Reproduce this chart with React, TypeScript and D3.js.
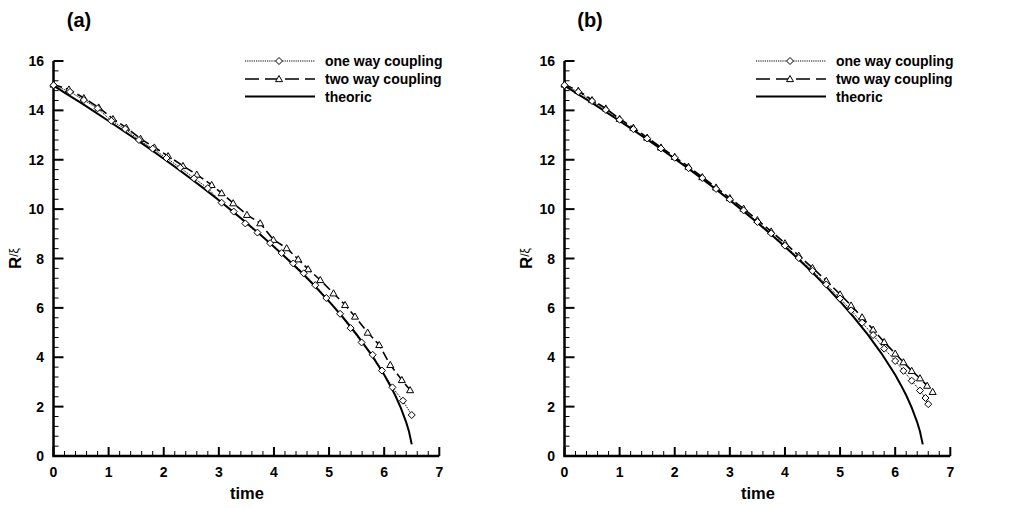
import React from "react";
import * as d3 from "d3";

// ---------- data ----------
const theoryT = [0, 0.25, 0.5, 0.75, 1, 1.25, 1.5, 1.75, 2, 2.25, 2.5, 2.75, 3, 3.25, 3.5, 3.75, 4, 4.25, 4.5, 4.75, 5, 5.25, 5.5, 5.75, 6, 6.1, 6.2, 6.3, 6.4, 6.45, 6.5];
const theoryR = [15.0, 14.65, 14.3, 13.94, 13.57, 13.2, 12.82, 12.44, 12.04, 11.64, 11.22, 10.8, 10.36, 9.91, 9.45, 8.97, 8.48, 7.96, 7.43, 6.86, 6.26, 5.62, 4.93, 4.16, 3.29, 2.89, 2.46, 1.96, 1.36, 0.99, 0.47];

// panel (a)
const oneWayAT = [0, 0.3, 0.55, 0.8, 1.05, 1.3, 1.55, 1.8, 2.05, 2.3, 2.55, 2.8, 3.05, 3.27, 3.48, 3.7, 3.93, 4.14, 4.35, 4.54, 4.75, 4.95, 5.2, 5.39, 5.59, 5.79, 5.96, 6.15, 6.34, 6.5];
const oneWayAR = [15.02, 14.75, 14.42, 14.08, 13.58, 13.25, 12.8, 12.45, 12.07, 11.68, 11.25, 10.85, 10.26, 9.9, 9.42, 9.05, 8.62, 8.22, 7.8, 7.4, 6.92, 6.4, 5.76, 5.18, 4.6, 4.1, 3.46, 2.78, 2.24, 1.66];
const twoWayAT = [0, 0.28, 0.55, 0.82, 1.08, 1.32, 1.58, 1.83, 2.08, 2.35, 2.6, 2.87, 3.05, 3.26, 3.51, 3.75, 3.99, 4.23, 4.44, 4.62, 4.84, 5.08, 5.29, 5.47, 5.7, 5.91, 6.11, 6.32, 6.47];
const twoWayAR = [15.05, 14.85, 14.5, 14.12, 13.65, 13.3, 12.85, 12.5, 12.15, 11.75, 11.4, 10.98, 10.65, 10.24, 9.77, 9.43, 8.76, 8.42, 7.97, 7.57, 7.13, 6.59, 6.12, 5.65, 5.0, 4.5, 3.69, 3.08, 2.67];

// panel (b)
const oneWayBT = [0, 0.25, 0.5, 0.75, 1, 1.25, 1.5, 1.75, 2, 2.25, 2.5, 2.75, 3, 3.25, 3.5, 3.75, 4, 4.25, 4.5, 4.75, 5, 5.2, 5.4, 5.6, 5.8, 6, 6.15, 6.3, 6.45, 6.55, 6.6];
const oneWayBR = [15.02, 14.75, 14.38, 14.02, 13.62, 13.24, 12.86, 12.46, 12.08, 11.66, 11.26, 10.82, 10.4, 9.95, 9.48, 9.02, 8.52, 8.02, 7.5, 6.95, 6.38, 5.9, 5.4, 4.9, 4.35, 3.85, 3.45, 3.05, 2.65, 2.35, 2.1];
const twoWayBT = [0, 0.25, 0.5, 0.75, 1, 1.25, 1.5, 1.75, 2, 2.25, 2.5, 2.75, 3, 3.25, 3.5, 3.75, 4, 4.25, 4.5, 4.75, 5, 5.2, 5.4, 5.6, 5.8, 6, 6.15, 6.3, 6.45, 6.58, 6.68];
const twoWayBR = [15.05, 14.8, 14.42, 14.08, 13.66, 13.3, 12.9, 12.5, 12.12, 11.72, 11.3, 10.88, 10.45, 10.02, 9.56, 9.1, 8.62, 8.12, 7.62, 7.1, 6.55, 6.1, 5.62, 5.12, 4.62, 4.15, 3.8, 3.45, 3.15, 2.85, 2.6];

const panelLabels = ["(a)", "(b)"];
const legendLabels = ["one way coupling", "two way coupling", "theoric"];
const xMajor = [0, 1, 2, 3, 4, 5, 6, 7];
const yMajor = [0, 2, 4, 6, 8, 10, 12, 14, 16];
const xLabel = "time";

const FONT = "'Liberation Sans', Arial, Helvetica, sans-serif";

type Pt = [number, number];
const zip = (t: number[], r: number[]): Pt[] => t.map((v, i) => [v, r[i]]);

function diamondPath(cx: number, cy: number, s = 3.5) {
  return `M${cx},${cy - s}L${cx + s},${cy}L${cx},${cy + s}L${cx - s},${cy}Z`;
}
function trianglePath(cx: number, cy: number, s = 3.5) {
  return `M${cx},${cy - s}L${cx + s},${cy + s * 0.75}L${cx - s},${cy + s * 0.75}Z`;
}

function Panel({ offset, label, one, two }: { offset: number; label: string; one: Pt[]; two: Pt[] }) {
  const x = d3.scaleLinear().domain([0, 7]).range([53.5 + offset, 439.3 + offset]);
  const y = d3.scaleLinear().domain([0, 16]).range([456, 61]);
  const line = d3.line<Pt>().x((d) => x(d[0])).y((d) => y(d[1]));
  const theory = zip(theoryT, theoryR);
  const xMinor = d3.range(0, 7.0001, 0.2).filter((v) => Math.abs(v - Math.round(v)) > 1e-6);
  const yMinor = d3.range(0, 16.0001, 0.4).filter((v) => Math.abs(v / 2 - Math.round(v / 2)) > 1e-6);
  const x0 = x(0);
  const y0 = y(0);
  const lx0 = 245 + offset;
  const lx1 = 315 + offset;
  const rows = [61, 79, 96.5];
  return (
    <g>
      <text x={79 + offset} y={27} fontSize={20} fontWeight="bold" textAnchor="middle" fontFamily={FONT}>{label}</text>
      {xMinor.map((v, i) => (
        <line key={"xm" + i} x1={x(v)} x2={x(v)} y1={y0} y2={y0 - 5} stroke="#000" strokeWidth={1} />
      ))}
      {yMinor.map((v, i) => (
        <line key={"ym" + i} x1={x0} x2={x0 + 5} y1={y(v)} y2={y(v)} stroke="#000" strokeWidth={1} />
      ))}
      {xMajor.map((v) => (
        <g key={"xM" + v}>
          <line x1={x(v)} x2={x(v)} y1={y0} y2={y0 - 9} stroke="#000" strokeWidth={2} />
          <text x={x(v)} y={477} fontSize={14} fontWeight="bold" textAnchor="middle" fontFamily={FONT}>{v}</text>
        </g>
      ))}
      {yMajor.map((v) => (
        <g key={"yM" + v}>
          <line x1={x0} x2={x0 + 10} y1={y(v)} y2={y(v)} stroke="#000" strokeWidth={2} />
          <text x={44} dx={offset} y={y(v)} dy="0.36em" fontSize={14} fontWeight="bold" textAnchor="end" fontFamily={FONT}>{v}</text>
        </g>
      ))}
      <path d={`M${x(7)},${y0}H${x0}V${y(16)}`} fill="none" stroke="#000" strokeWidth={2.5} />
      <text x={247 + offset} y={499} fontSize={16.5} fontWeight="bold" textAnchor="middle" fontFamily={FONT}>{xLabel}</text>
      <text transform={`translate(${21 + offset},${258.5}) rotate(-90)`} textAnchor="middle" fontFamily={FONT}>
        <tspan fontSize={17} fontWeight="bold">R</tspan>
        <tspan fontSize={12} dy={-3}>/ξ</tspan>
      </text>

      <path d={line(theory) || ""} fill="none" stroke="#000" strokeWidth={2} />
      <path d={line(two) || ""} fill="none" stroke="#000" strokeWidth={1.6} strokeDasharray="9,4" />
      <path d={line(one) || ""} fill="none" stroke="#000" strokeWidth={1} strokeDasharray="1.2,1" />
      {two.map((d, i) => (
        <path key={"tw" + i} d={trianglePath(x(d[0]), y(d[1]))} fill="#fff" stroke="#000" strokeWidth={1} />
      ))}
      {one.map((d, i) => (
        <path key={"ow" + i} d={diamondPath(x(d[0]), y(d[1]))} fill="#fff" stroke="#000" strokeWidth={1} />
      ))}

      <line x1={lx0} x2={lx1} y1={rows[0]} y2={rows[0]} stroke="#000" strokeWidth={1} strokeDasharray="1.2,1" />
      <path d={diamondPath((lx0 + lx1) / 2 - 1, rows[0])} fill="#fff" stroke="#000" strokeWidth={1} />
      <line x1={lx0} x2={lx1} y1={rows[1]} y2={rows[1]} stroke="#000" strokeWidth={1.6} strokeDasharray="14,6" />
      <path d={trianglePath((lx0 + lx1) / 2 - 1, rows[1])} fill="#fff" stroke="#000" strokeWidth={1} />
      <line x1={lx0} x2={lx1} y1={rows[2]} y2={rows[2]} stroke="#000" strokeWidth={2} />
      {legendLabels.map((t, i) => (
        <text key={t} x={325 + offset} y={rows[i]} dy="0.36em" fontSize={14} fontWeight="bold" fontFamily={FONT}>{t}</text>
      ))}
    </g>
  );
}

export default function App() {
  return (
    <svg width={1027} height={508} style={{ position: "absolute", left: 0, top: 0, background: "#fff" }}>
      <rect width={1027} height={508} fill="#fff" />
      <Panel offset={0} label={panelLabels[0]} one={zip(oneWayAT, oneWayAR)} two={zip(twoWayAT, twoWayAR)} />
      <Panel offset={511} label={panelLabels[1]} one={zip(oneWayBT, oneWayBR)} two={zip(twoWayBT, twoWayBR)} />
    </svg>
  );
}
